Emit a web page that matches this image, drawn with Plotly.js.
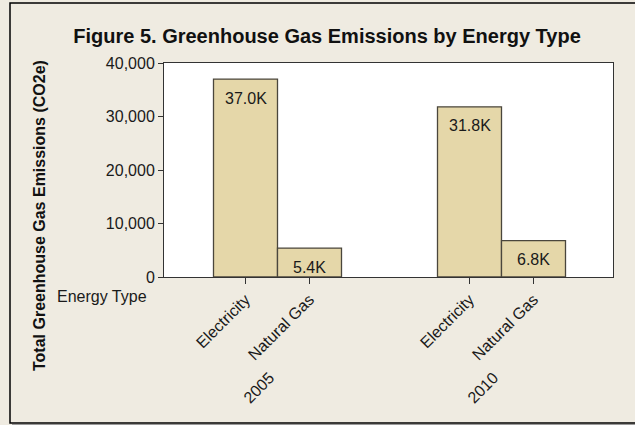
<!DOCTYPE html>
<html>
<head>
<meta charset="utf-8">
<script src="https://cdn.plot.ly/plotly-3.0.1.min.js"></script>
<style>html,body{margin:0;padding:0;background:#EFEBE1;}#chart{width:635px;height:425px;}</style>
</head>
<body>
<div id="chart"></div>
<script>
// ---- data ----
const years = ['2005', '2010'];
const energyTypes = ['Electricity', 'Natural Gas'];
const emissions2005 = [37000, 5400];
const emissions2010 = [31800, 6800];
const emissionsByYear = [emissions2005, emissions2010];
const yTicks = [0, 10000, 20000, 30000, 40000];

// ---- layout helpers (plot area 164..613 x 63..277 px) ----
const W = 635, H = 425;
const L = 164, R = 22, T = 63, B = 148;
const pw = W - L - R, ph = H - T - B;
const px = v => (v - L) / pw;        // pixel x -> paper
const py = v => (H - B - v) / ph;    // pixel y -> paper
const groupStep = 3.5;               // spacing between year groups (bar units)
const FS = 16;

const xs = [], ys = [], tickVals = [], tickText = [], anns = [];
years.forEach((yr, i) => {
  energyTypes.forEach((t, j) => {
    const x = i * groupStep + j;
    const v = emissionsByYear[i][j];
    xs.push(x); ys.push(v);
    tickVals.push(x); tickText.push(t);
    anns.push({x: x, y: v, xref: 'x', yref: 'y', yshift: -19, showarrow: false,
      text: (v / 1000).toFixed(1) + 'K', font: {size: FS, color: '#1a1a1a'},
      xanchor: 'center', yanchor: 'middle'});
  });
  anns.push({x: i * groupStep + 0.5 + 0.05, y: py(366), xref: 'x', yref: 'paper', showarrow: false,
    text: yr, textangle: -45, font: {size: FS, color: '#1a1a1a'}, xanchor: 'right', yanchor: 'top'});
});

anns.push({x: px(55), y: py(296), xref: 'paper', yref: 'paper', showarrow: false,
  text: 'Energy Type', font: {size: FS, color: '#1a1a1a'}, xanchor: 'left', yanchor: 'middle'});
anns.push({x: px(39), y: py(216), xref: 'paper', yref: 'paper', showarrow: false,
  text: '<b>Total Greenhouse Gas Emissions (CO2e)</b>', textangle: -90,
  font: {size: 16, color: '#111'}, xanchor: 'center', yanchor: 'middle'});

const trace = {
  type: 'bar', x: xs, y: ys, width: 1,
  marker: {color: '#E5D7A9', line: {color: '#4a463c', width: 1.3}},
  hoverinfo: 'skip'
};

const layout = {
  width: W, height: H,
  margin: {l: L, r: R, t: T, b: B},
  paper_bgcolor: '#EFEBE1', plot_bgcolor: '#FFFFFF',
  font: {family: '"Liberation Sans", Arial, sans-serif', size: FS, color: '#1a1a1a'},
  title: {text: '<b>Figure 5. Greenhouse Gas Emissions by Energy Type</b>',
    font: {size: 20, color: '#111'}, x: 0.515, xanchor: 'center', y: 1 - 36 / H, yanchor: 'middle'},
  showlegend: false,
  xaxis: {
    range: [-(245.5 - 164) / 64, (613 - 245.5) / 64],
    tickmode: 'array', tickvals: tickVals, ticktext: tickText, tickangle: -45,
    ticks: 'outside', ticklen: 6, tickcolor: '#333', showgrid: false, zeroline: false,
    showline: true, linecolor: '#333', linewidth: 1, mirror: true,
    tickfont: {size: FS, color: '#1a1a1a'}, fixedrange: true
  },
  yaxis: {
    range: [0, 40000], tickmode: 'array', tickvals: yTicks, tickformat: ',d',
    ticks: 'outside', ticklen: 5, tickcolor: '#333', showgrid: false, zeroline: false,
    showline: true, linecolor: '#333', linewidth: 1, mirror: true,
    tickfont: {size: FS, color: '#1a1a1a'}, fixedrange: true
  },
  annotations: anns,
  shapes: [
    {type: 'rect', xref: 'paper', yref: 'paper', x0: px(10), x1: px(660), y0: py(423), y1: py(3),
      line: {color: '#000', width: 1.5}, fillcolor: 'rgba(0,0,0,0)', layer: 'below'},
    {type: 'line', xref: 'paper', yref: 'paper', x0: px(12), x1: px(660), y0: py(425), y1: py(425),
      line: {color: '#9a9a9a', width: 2}}
  ]
};

Plotly.newPlot('chart', [trace], layout, {displayModeBar: false, staticPlot: true});
</script>
</body>
</html>
